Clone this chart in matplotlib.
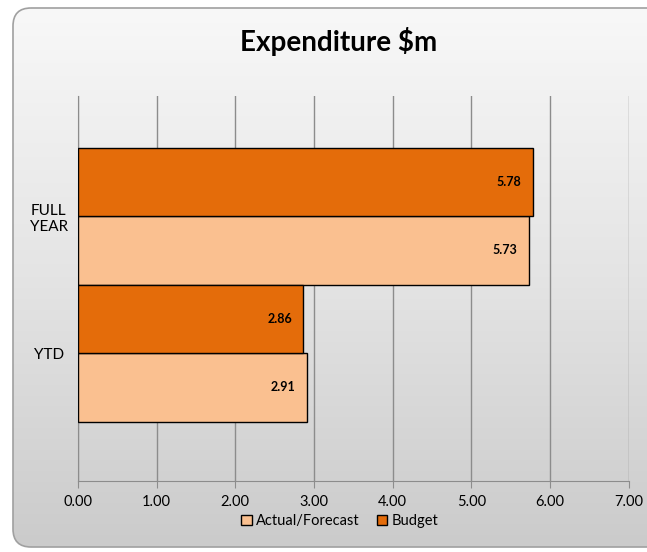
import numpy as np
import matplotlib.pyplot as plt
from matplotlib.patches import FancyBboxPatch, Patch

plt.rcParams['font.family'] = ['Lato', 'DejaVu Sans']

# Data
categories = ["YTD", "FULL\nYEAR"]
actual = [2.91, 5.73]
budget = [2.86, 5.78]
xticks = [0, 1, 2, 3, 4, 5, 6, 7]

W, H = 647, 552
fig = plt.figure(figsize=(W / 100, H / 100), dpi=100)
fig.patch.set_facecolor("white")

# rounded chart frame with gradient fill
bg = fig.add_axes([0, 0, 1, 1], zorder=0)
bg.set_xlim(0, W)
bg.set_ylim(H, 0)
bg.axis("off")
grad = np.linspace(0, 1, 256).reshape(-1, 1)
img = bg.imshow(grad, cmap=plt.matplotlib.colors.LinearSegmentedColormap.from_list(
    "g", ["#f8f8f8", "#e4e4e4", "#cbcbcb"]), extent=[13, 670, 547, 8], aspect="auto")
frame = FancyBboxPatch((13, 8), 657, 539, boxstyle="round,pad=0,rounding_size=18",
                       facecolor="none", edgecolor="#a0a0a0", lw=1.2)
bg.add_patch(frame)
img.set_clip_path(frame)

# plot area
x0, x1 = 78, 628.5
y0, y1 = 96, 481
ax = fig.add_axes([x0 / W, 1 - y1 / H, (x1 - x0) / W, (y1 - y0) / H], zorder=1)
ax.patch.set_alpha(0)

y = np.arange(len(categories))
h = 0.5
b1 = ax.barh(y - h / 2, actual, height=h, color="#FAC090", edgecolor="black", lw=1, zorder=3,
             label="Actual/Forecast")
b2 = ax.barh(y + h / 2, budget, height=h, color="#E46C0A", edgecolor="black", lw=1, zorder=3,
             label="Budget")

for bars, vals in [(b1, actual), (b2, budget)]:
    for bar, v in zip(bars, vals):
        ax.text(v - 0.14, bar.get_y() + bar.get_height() / 2, f"{v:.2f}",
                ha="right", va="center", fontsize=9, fontweight="bold", zorder=4)

ax.set_xlim(0, 7)
ax.set_ylim(-0.934, 1.876)
ax.set_xticks(xticks)
ax.set_xticklabels([f"{t:.2f}" for t in xticks], fontsize=10.5)
ax.set_yticks(y)
ax.set_yticklabels(categories, fontsize=11, ha="center")
ax.tick_params(axis="y", length=0, pad=21)
ax.tick_params(axis="x", length=5, color="#8c8c8c", pad=5)
ax.grid(axis="x", color="#8c8c8c", lw=1, zorder=0)
for s in ["top", "right"]:
    ax.spines[s].set_visible(False)
ax.spines["left"].set_color("#8c8c8c")
ax.spines["bottom"].set_color("#8c8c8c")

fig.text(339 / W, 1 - 42 / H, "Expenditure $m", ha="center", va="center",
         fontsize=20, fontweight="bold")

handles = [Patch(facecolor="#FAC090", edgecolor="black", label="Actual/Forecast"),
           Patch(facecolor="#E46C0A", edgecolor="black", label="Budget")]
fig.legend(handles=handles, loc="center", bbox_to_anchor=(340 / W, 1 - 521 / H), ncol=2,
           frameon=False, fontsize=10.5, handlelength=0.7, handleheight=0.7,
           handletextpad=0.3, columnspacing=1.2)

fig.savefig("out.png", dpi=100)
